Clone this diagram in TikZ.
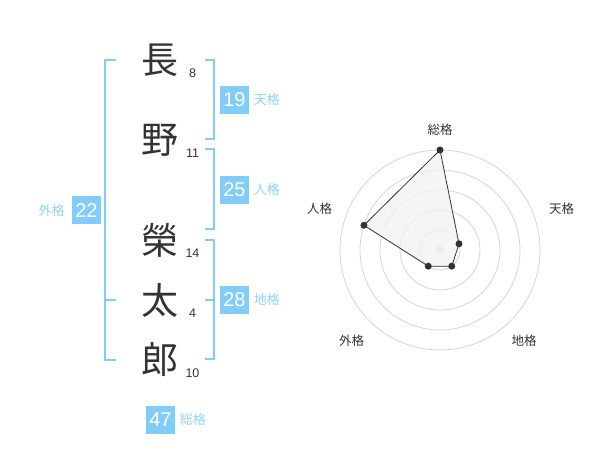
\documentclass[tikz,border=0pt]{standalone}
\usepackage{fontspec}
\setmainfont{Liberation Sans}
\newfontfamily\jpfont{Noto Sans CJK JP}
\usetikzlibrary{positioning}

\definecolor{kakublue}{HTML}{82CCFA}
\definecolor{nameblue}{HTML}{8FD2F7}
\definecolor{inkgray}{HTML}{333333}
\definecolor{ringgray}{HTML}{D4D4D4}
\definecolor{areagray}{HTML}{F2F2F2}

\tikzset{
 kanji/.style={font=\jpfont\fontsize{37}{37}\selectfont,text=inkgray,inner sep=0pt},
 strokes/.style={font=\fontsize{12.5}{12.5}\selectfont,text=inkgray,inner sep=0pt},
 kakubox/.style={fill=kakublue,text=white,minimum width=29pt,minimum height=28pt,inner sep=0pt,font=\fontsize{20}{20}\selectfont},
 kakuname/.style={font=\jpfont\fontsize{13}{13}\selectfont,text=nameblue,inner sep=0pt},
 brace/.style={draw=kakublue,line width=2pt},
 axisname/.style={font=\jpfont\fontsize{12.5}{12.5}\selectfont,text=inkgray,inner sep=0pt},
 vertex/.style={circle,fill=inkgray,inner sep=0pt,minimum size=7pt},
}

\begin{document}
\begin{tikzpicture}[x=1pt,y=-1pt]
 \useasboundingbox (0,0) rectangle (600,470);

 % Name
 \node[kanji] (c1) at (160,60) {長};
 \node[kanji] (c2) at (160,140) {野};
 \node[kanji] (c3) at (160,240) {榮};
 \node[kanji] (c4) at (160,300) {太};
 \node[kanji] (c5) at (160,360) {郎};
 \node[strokes] (s1) at (192.5,73) {8};
 \node[strokes] (s2) at (192.5,153) {11};
 \node[strokes] (s3) at (192.5,253) {14};
 \node[strokes] (s4) at (192.5,313) {4};
 \node[strokes] (s5) at (192.5,373) {10};

 % Brackets
 \draw[brace] (116,60) -- (105,60) -- (105,360) -- (116,360) (105,300) -- (116,300);
 \draw[brace] (205,60) -- (214,60) -- (214,139) -- (205,139);
 \draw[brace] (205,149) -- (214,149) -- (214,229) -- (205,229);
 \draw[brace] (205,240) -- (214,240) -- (214,359) -- (205,359) (214,300) -- (205,300);

 % Kaku values
 \node[kakubox] (ten) at (234.5,100) {19};
 \node[kakuname,right=4.5pt of ten] (tenname) {天格};
 \node[kakubox] (jin) at (234.5,190) {25};
 \node[kakuname,right=4.5pt of jin] (jinname) {人格};
 \node[kakubox] (chi) at (234.5,300) {28};
 \node[kakuname,right=4.5pt of chi] (chiname) {地格};
 \node[kakubox] (gai) at (86.5,210.5) {22};
 \node[kakuname,left=7pt of gai] (gainame) {外格};
 \node[kakubox] (sou) at (160.5,419.5) {47};
 \node[kakuname,right=4.5pt of sou] (souname) {総格};

 % Radar
 \begin{scope}[shift={(440,250)},y=1pt]
  \foreach \r in {20,40,60,80,100}
   \draw[ringgray,line width=0.8pt] (0,0) circle[radius=\r];
  \fill[ringgray] (0,0) circle[radius=4];
  \coordinate (psou) at (90:100);
  \coordinate (pten) at (18:20);
  \coordinate (pchi) at (-54:20);
  \coordinate (pgai) at (234:20);
  \coordinate (pjin) at (162:80);
  \draw[inkgray,fill=areagray,fill opacity=0.8,line width=0.8pt] (psou) -- (pten) -- (pchi) -- (pgai) -- (pjin) -- cycle;
  \foreach \p in {psou,pten,pchi,pgai,pjin}
   \node[vertex] at (\p) {};
  \node[axisname] (asou) at (0,120) {総格};
  \node[axisname] (aten) at (121.5,41) {天格};
  \node[axisname] (ajin) at (-120.5,41) {人格};
  \node[axisname] (agai) at (-88.5,-91) {外格};
  \node[axisname] (achi) at (84,-91) {地格};
 \end{scope}
\end{tikzpicture}
\end{document}
